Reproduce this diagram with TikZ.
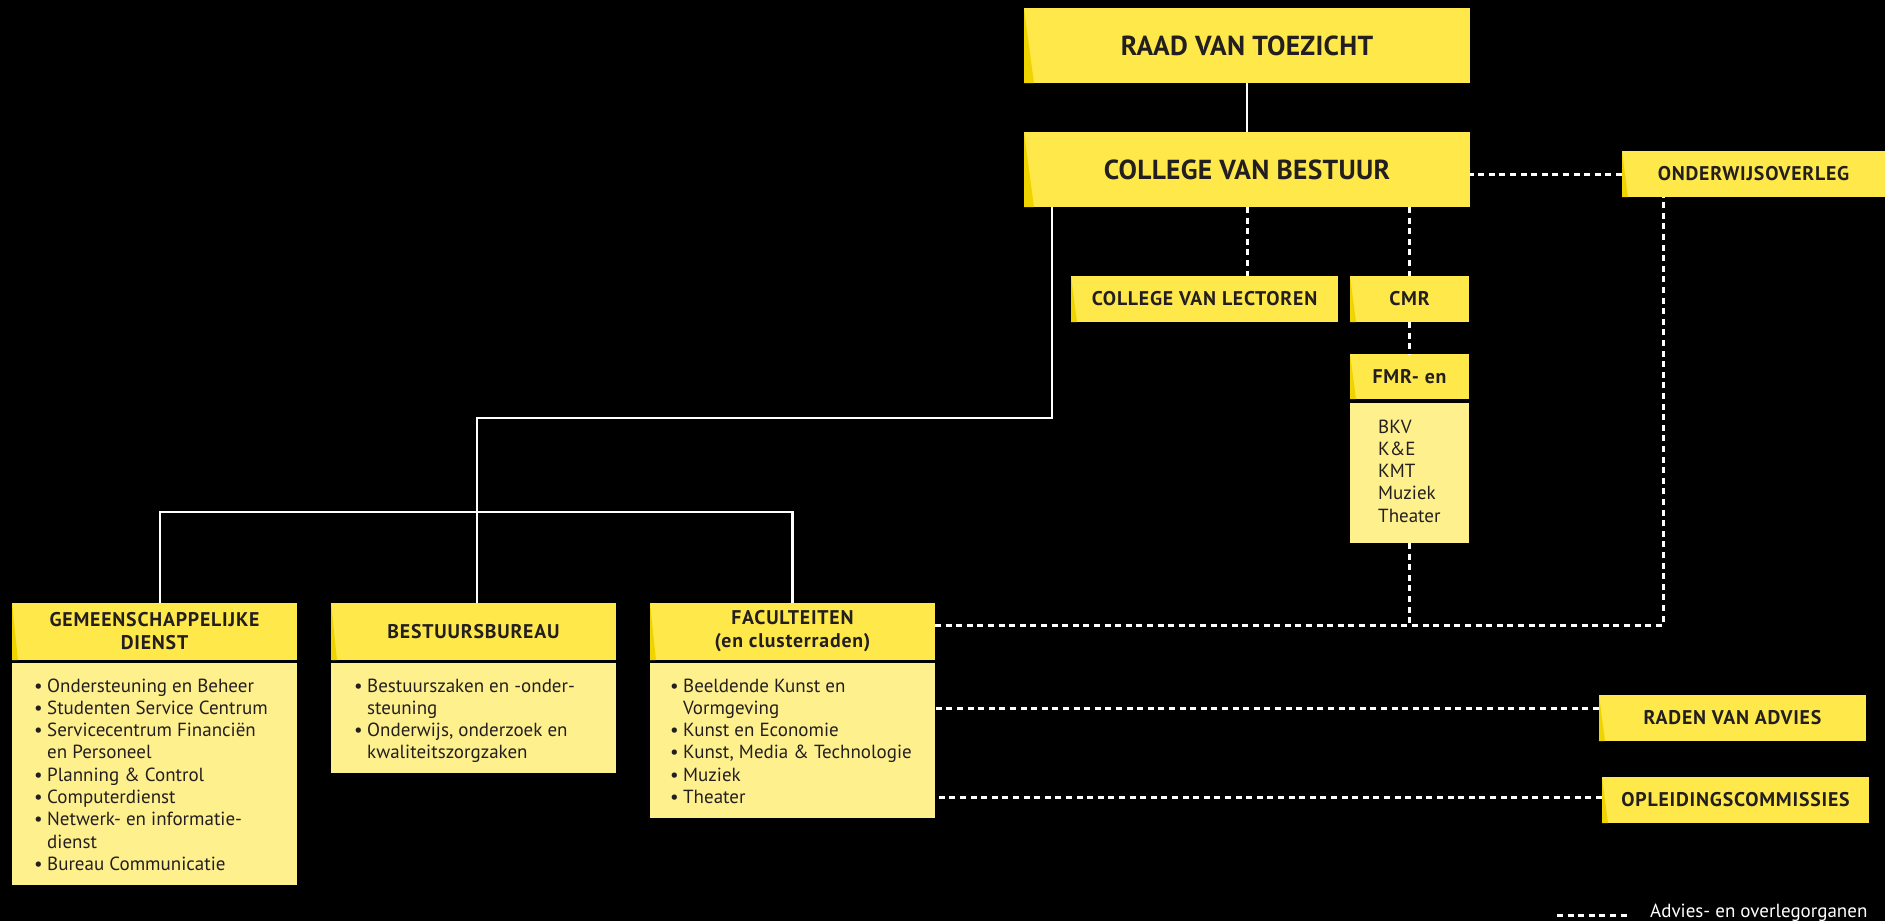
\documentclass[tikz,border=0pt]{standalone}
\usepackage{fontspec}
\setmainfont{PT Sans}
\newfontfamily\hdfont{PT Sans}[LetterSpace=4]
\newfontfamily\bigfont{PT Sans}[LetterSpace=1]
\definecolor{hdrY}{RGB}{255,233,74}
\definecolor{listY}{RGB}{255,240,142}
\definecolor{foldY}{RGB}{240,212,0}
\definecolor{txt}{RGB}{35,31,32}
\begin{document}
\begin{tikzpicture}[x=1pt,y=-1pt,
  box/.style={inner sep=0pt, outer sep=0pt, anchor=north west, text=txt},
  hdr/.style={box, fill=hdrY, path picture={\fill[foldY] (path picture bounding box.north west) -- ([xshift=#1]path picture bounding box.south west) -- (path picture bounding box.south west) -- cycle;}},
  hdr/.default=6pt,
  lst/.style={box, fill=listY},
  bigf/.style={font=\bigfont\fontsize{27.5}{30}\selectfont\bfseries},
  midf/.style={font=\hdfont\fontsize{19.8}{23}\selectfont\bfseries},
  listf/.style={font=\fontsize{19}{22.3}\selectfont, text=txt, inner sep=0pt},
  solidl/.style={draw=white, line width=2.6pt},
  dashl/.style={draw=white, line width=3pt, dash pattern=on 6pt off 4.6pt}
]
\fill[black] (0,0) rectangle (1885,921);
\useasboundingbox (0,0) rectangle (1885,921);

% top
\node[hdr=10pt, bigf, minimum width=446pt, minimum height=75pt] (rvt) at (1024,8) {RAAD VAN TOEZICHT};
\node[hdr=10pt, bigf, minimum width=446pt, minimum height=75pt] (cvb) at (1024,132) {COLLEGE VAN BESTUUR};
\node[hdr, midf, minimum width=263pt, minimum height=46pt] (oo) at (1622,151) {ONDERWIJSOVERLEG};
\node[hdr, midf, minimum width=267pt, minimum height=46pt] (cvl) at (1071,276) {COLLEGE VAN LECTOREN};
\node[hdr, midf, minimum width=119pt, minimum height=46pt] (cmr) at (1350,276) {CMR};
\node[hdr, midf, minimum width=119pt, minimum height=45pt] (fmr) at (1350,354) {FMR- en};
\node[lst, minimum width=119pt, minimum height=140pt] (fmrl) at (1350,403) {};
\node[listf, anchor=base west] (fmrt) at (1378,433) {\begin{tabular}[t]{@{}l@{}}BKV\\K\&E\\KMT\\Muziek\\Theater\end{tabular}};

% bottom
\node[hdr, midf, minimum width=285pt, minimum height=57pt, align=center] (gd) at (12,603) {GEMEENSCHAPPELIJKE\\DIENST};
\node[lst, minimum width=285pt, minimum height=222pt] (gdl) at (12,663) {};
\node[hdr, midf, minimum width=285pt, minimum height=57pt] (bb) at (331,603) {BESTUURSBUREAU};
\node[lst, minimum width=285pt, minimum height=110pt] (bbl) at (331,663) {};
\node[hdr, midf, minimum width=285pt, minimum height=57pt, align=center] (fac) at (650,603) {FACULTEITEN\\(en clusterraden)};
\node[lst, minimum width=285pt, minimum height=155pt] (facl) at (650,663) {};

\newcommand\bul{\makebox[13pt][l]{•}}
\newcommand\nob{\hspace*{13pt}}
\node[listf, anchor=base west] (gdt) at (34,692) {\begin{tabular}[t]{@{}l@{}}
\bul Ondersteuning en Beheer\\
\bul Studenten Service Centrum\\
\bul Servicecentrum Financiën\\
\nob en Personeel\\
\bul Planning \& Control\\
\bul Computerdienst\\
\bul Netwerk- en informatie-\\
\nob dienst\\
\bul Bureau Communicatie\end{tabular}};
\node[listf, anchor=base west] (bbt) at (354,692) {\begin{tabular}[t]{@{}l@{}}
\bul Bestuurszaken en -onder-\\
\nob steuning\\
\bul Onderwijs, onderzoek en\\
\nob kwaliteitszorgzaken\end{tabular}};
\node[listf, anchor=base west] (fact) at (670,692) {\begin{tabular}[t]{@{}l@{}}
\bul Beeldende Kunst en\\
\nob Vormgeving\\
\bul Kunst en Economie\\
\bul Kunst, Media \& Technologie\\
\bul Muziek\\
\bul Theater\end{tabular}};

\node[hdr, midf, minimum width=267pt, minimum height=46pt] (rva) at (1599,695) {RADEN VAN ADVIES};
\node[hdr, midf, minimum width=267pt, minimum height=46pt] (opl) at (1602,777) {OPLEIDINGSCOMMISSIES};

% solid connectors
\draw[solidl] (rvt.south) -- (cvb.north);
\draw[solidl] ([xshift=28pt]cvb.south west) -- ++(0,211) -| ([xshift=146pt]bb.north west);
\draw[solidl] ([xshift=148pt]gd.north west) -- ++(0,-91) -| (fac.north);

% dashed connectors
\draw[dashl] (oo.west) -- (oo.west -| cvb.east);
\draw[dashl] (cvb.south) -- (cvb.south |- cvl.north);
\draw[dashl] (cmr.north |- cvb.south) -- (cmr.north);
\draw[dashl] (cmr.south) -- (fmr.north);
\draw[dashl] (fmrl.south) -- ++(0,82);
\draw[dashl] ([yshift=6.5pt]fac.east) -| ([xshift=41pt]oo.south west);
\draw[dashl] ([yshift=10pt]rva.west) -- ([yshift=10pt]rva.west -| facl.east);
\draw[dashl] ([yshift=3pt]opl.west) -- ([yshift=3pt]opl.west -| facl.east);

% legend
\coordinate (lg1) at (1557,915);
\coordinate (lg2) at (1628,915);
\draw[dashl] (lg1) -- (lg2);
\node[listf, text=white, anchor=base west] (lgt) at (1650,917) {Advies- en overlegorganen};
\end{tikzpicture}
\end{document}
